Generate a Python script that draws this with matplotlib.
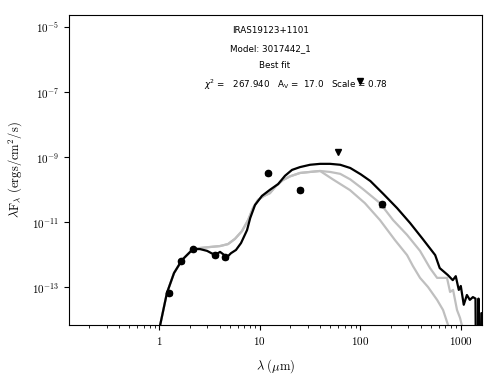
import numpy as np
import matplotlib
matplotlib.use("Agg")
import matplotlib.pyplot as plt
from matplotlib import ticker

plt.rcParams['mathtext.fontset'] = 'cm'
plt.rcParams['font.family'] = ['DejaVu Sans']

# ---- data ----
# best-fit model (black)
best_wav = [0.97, 1.02, 1.19, 1.40, 1.68, 2.16, 2.54, 2.99, 3.58, 4.02, 4.72, 5.16, 5.79,
            6.50, 7.46, 8.02, 8.95, 10.5, 12.6, 15.2, 17.8, 20.9, 25.1, 31.6, 39.8, 50.1,
            63.1, 79.4, 101, 126, 170, 232, 313, 417, 556, 617, 741, 832, 891, 955, 1000,
            1070, 1150, 1230, 1320, 1400, 1420, 1480, 1500, 1540, 1560, 1600, 1700]
best_flux = [3.0e-15, 7.0e-15, 6.7e-14, 2.75e-13, 6.9e-13, 1.5e-12, 1.5e-12, 1.32e-12,
             9.8e-13, 1.23e-12, 8.5e-13, 1.12e-12, 1.41e-12, 2.3e-12, 5.75e-12, 1.35e-11,
             3.4e-11, 6.5e-11, 1.0e-10, 1.5e-10, 2.7e-10, 4.1e-10, 5.0e-10, 5.9e-10, 6.3e-10,
             6.3e-10, 5.9e-10, 4.7e-10, 3.0e-10, 1.86e-10, 7.4e-11, 2.75e-11, 9.5e-12,
             3.1e-12, 9.8e-13, 3.9e-13, 2.4e-13, 1.66e-13, 2.2e-13, 8.3e-14, 1.1e-13,
             2.9e-14, 5.8e-14, 4.1e-14, 5.0e-14, 4.5e-14, 1e-16, 1e-16, 4.5e-14, 1e-16,
             1e-16, 1.6e-14, 1.6e-14]

# second model (grey)
mod2_wav = [0.97, 1.02, 1.19, 1.40, 1.68, 2.16, 2.54, 3.20, 4.02, 4.83, 5.66, 6.65, 7.64,
            8.55, 9.6, 11.0, 12.6, 14.5, 17.0, 20.0, 25.1, 31.6, 39.8, 50.1, 63.1, 79.4,
            106, 157, 212, 292, 393, 494, 581, 729, 782, 838, 917, 982, 1050]
mod2_flux = [3.0e-15, 7.0e-15, 6.7e-14, 2.75e-13, 6.9e-13, 1.5e-12, 1.62e-12, 1.74e-12,
             1.86e-12, 2.14e-12, 3.1e-12, 5.4e-12, 1.17e-11, 2.75e-11, 4.9e-11, 6.5e-11,
             7.9e-11, 1.32e-10, 2.0e-10, 2.6e-10, 3.3e-10, 3.55e-10, 3.8e-10, 3.55e-10,
             3.1e-10, 2.1e-10, 1.06e-10, 3.9e-11, 1.17e-11, 4.1e-12, 1.32e-12, 3.9e-13,
             1.95e-13, 1.95e-13, 7.2e-14, 8.3e-14, 2.0e-14, 1.15e-14, 5e-15]

# third model (grey)
mod3_wav = [0.97, 1.02, 1.19, 1.40, 1.68, 2.16, 2.54, 3.20, 4.02, 4.83, 5.66, 6.65, 7.64,
            8.55, 9.6, 11.0, 12.6, 14.5, 17.0, 20.0, 25.1, 31.6, 39.8, 53.3, 78.9, 111,
            157, 221, 292, 334, 393, 472, 581, 666, 747, 800]
mod3_flux = [3.0e-15, 7.0e-15, 6.7e-14, 2.75e-13, 6.9e-13, 1.5e-12, 1.62e-12, 1.74e-12,
             1.86e-12, 2.14e-12, 3.1e-12, 5.4e-12, 1.17e-11, 2.75e-11, 4.9e-11, 6.5e-11,
             7.9e-11, 1.32e-10, 2.0e-10, 2.6e-10, 3.3e-10, 3.55e-10, 3.8e-10, 2.1e-10,
             9.8e-11, 3.9e-11, 1.17e-11, 2.85e-12, 9.8e-13, 4.5e-13, 1.95e-13, 1.02e-13,
             4.1e-14, 2.0e-14, 6.9e-15, 3e-15]

# photometry
phot_wav = [1.235, 1.66, 2.16, 3.6, 4.5, 12.0, 25.0, 165.0]
phot_flux = [6.7e-14, 6.4e-13, 1.5e-12, 9.9e-13, 8.5e-13, 3.3e-10, 9.9e-11, 3.66e-11]
phot_err = [0.8e-14, 0.7e-13, 1.5e-13, 1.2e-13, 1.0e-13, 0.35e-10, 1.1e-11, 0.6e-11]

# upper limits
lim_wav = [60.0, 100.0]
lim_flux = [1.46e-9, 2.2e-7]

source = "IRAS19123+1101"
model_name = "Model: 3017442_1"
fit_label = "Best fit"
chi2 = 267.940
av = 17.0
scale = 0.78

# ---- figure ----
fig = plt.figure(figsize=(4.98, 3.74), dpi=100)
ax = fig.add_axes([69/498, 1-325/374, 413/498, 310/374])

ax.plot(mod3_wav, mod3_flux, color='0.75', lw=1.6)
ax.plot(mod2_wav, mod2_flux, color='0.75', lw=1.6)
ax.plot(best_wav, best_flux, color='k', lw=1.6)
ax.errorbar(phot_wav, phot_flux, yerr=phot_err, fmt='o', color='k', ms=4.5,
            capsize=2.5, elinewidth=1, capthick=1)
ax.plot(lim_wav, lim_flux, 'v', color='k', ms=5)

ax.set_xscale('log')
ax.set_yscale('log')
ax.set_xlim(10**-0.899, 10**3.211)
ax.set_ylim(10**-14.16, 10**-4.62)

ax.yaxis.set_major_locator(ticker.FixedLocator([1e-13, 1e-11, 1e-9, 1e-7, 1e-5]))
ax.yaxis.set_minor_locator(ticker.NullLocator())
ax.xaxis.set_major_locator(ticker.FixedLocator([1, 10, 100, 1000]))
ax.xaxis.set_major_formatter(ticker.FuncFormatter(lambda v, p: r'$\mathrm{%d}$' % v))
ax.yaxis.set_major_formatter(ticker.FuncFormatter(
    lambda v, p: r'$\mathrm{10^{%d}}$' % int(round(np.log10(v)))))
ax.tick_params(labelsize=8)

ax.set_xlabel(r'$\lambda\ (\mu\mathrm{m})$', fontsize=9)
ax.set_ylabel(r'$\lambda\mathrm{F}_\lambda\ (\mathrm{ergs/cm^2/s})$', fontsize=9)
ax.xaxis.set_label_coords(0.5, -0.103)
ax.yaxis.set_label_coords(-0.108, 0.5)

fs = 6.3
ax.text(0.487, 0.9516, source, transform=ax.transAxes, ha='center', va='center', fontsize=fs)
ax.text(0.487, 0.8926, model_name, transform=ax.transAxes, ha='center', va='center', fontsize=fs)
ax.text(0.497, 0.8387, fit_label, transform=ax.transAxes, ha='center', va='center', fontsize=fs)
ax.text(0.327, 0.7742,
        r'$\chi^2$ =   %.3f   A$_\mathrm{V}$ =  %.1f   Scale = %.2f' % (chi2, av, scale),
        transform=ax.transAxes, ha='left', va='center', fontsize=fs,
        math_fontfamily='dejavusans')

fig.savefig('out.png', dpi=100)
